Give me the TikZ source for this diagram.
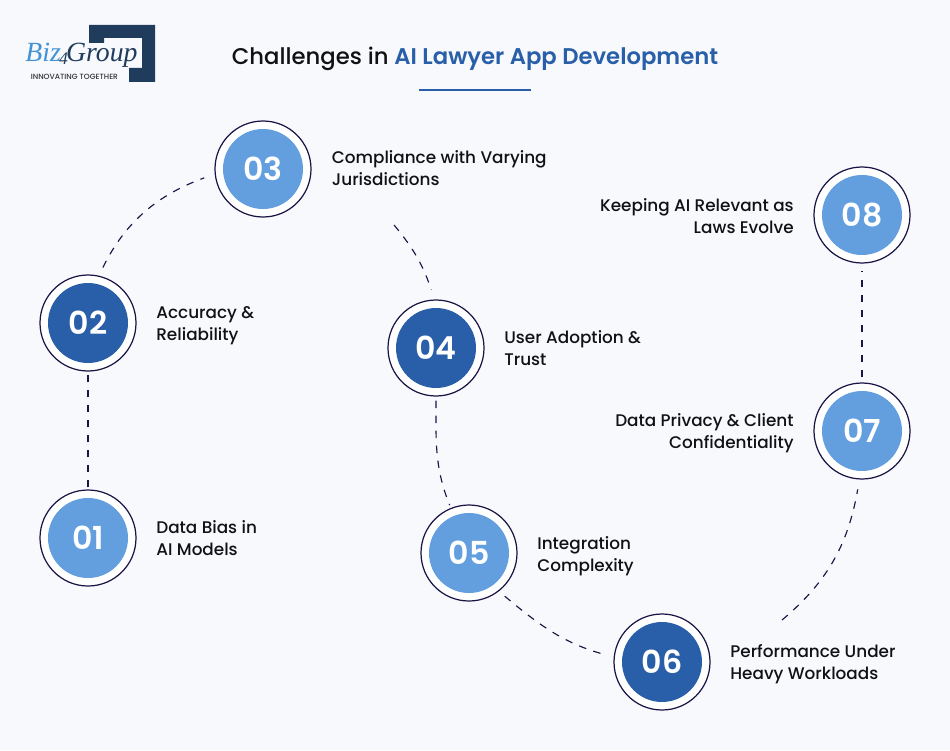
\documentclass[tikz,border=0pt]{standalone}
\usepackage{fontspec}
\setmainfont{Poppins}[UprightFont=* Medium, BoldFont=* SemiBold]
\newfontfamily\logofont{Liberation Serif}
\definecolor{paper}{RGB}{248, 249, 253}
\definecolor{inkdark}{RGB}{17, 17, 20}
\definecolor{ringnavy}{RGB}{28, 20, 69}
\definecolor{lightblue}{RGB}{99, 159, 223}
\definecolor{darkblue}{RGB}{41, 95, 168}
\definecolor{logonavy}{RGB}{32, 60, 92}
\definecolor{logoblue}{RGB}{66, 146, 214}
\tikzset{
    ringnode/.style   = {circle, draw=ringnavy, fill=white, line width=0.7pt, minimum size=1.92cm, inner sep=0pt},
    lightnum/.style   = {circle, fill=lightblue, text=white, minimum size=1.60cm, inner sep=0pt, font=\fontsize{18}{18}\selectfont\bfseries},
    darknum/.style    = {circle, fill=darkblue, text=white, minimum size=1.60cm, inner sep=0pt, font=\fontsize{18}{18}\selectfont\bfseries},
    sidetext/.style   = {text=inkdark, inner sep=0pt, font=\fontsize{9.58}{12.5}\selectfont},
    dashline/.style   = {ringnavy, line width=0.65pt, dash pattern=on 0.15cm off 0.15cm}
}
\begin{document}
\begin{tikzpicture}
    \useasboundingbox (0,0) rectangle (19,15);
    \fill[paper] (0,0) rectangle (19,15);

    % logo
    \fill[logonavy] (1.78,14.50) -- (3.10,14.50) -- (3.10,13.36) -- (2.58,13.36) -- (2.58,13.64) -- (2.84,13.64) -- (2.84,14.24) -- (2.08,14.24) -- (2.08,14.14) -- (1.78,14.14) -- cycle;
    \fill[paper] (1.40,13.70) rectangle (2.62,14.10);
    \node[inner sep=0pt, anchor=base west, font=\logofont\itshape\fontsize{15.8}{15.8}\selectfont] (logoname) at (0.50,13.77) {\textcolor{logoblue}{Biz}\hspace{-1pt}\textcolor{logonavy}{\raisebox{-1.5pt}{\fontsize{10}{10}\selectfont 4}\hspace{-1pt}Group}};
    \node[inner sep=0pt, anchor=west, text=inkdark!85, font=\fontsize{4.3}{4.3}\selectfont] (logotag) at (0.61,13.47) {INNOVATING TOGETHER};

    % title
    \node[inner sep=0pt, text=inkdark, font=\fontsize{12.93}{14}\selectfont] (title) at (9.50,13.82) {Challenges in \textcolor{darkblue}{\bfseries AI Lawyer App Development}};
    \coordinate (ruleleft) at (8.38,13.20);
    \coordinate (ruleright) at (10.62,13.20);
    \draw[darkblue, line width=1pt] (ruleleft) -- (ruleright);

    % steps
    \node[ringnode] (r01) at ( 1.76, 4.24) {};
    \node[ringnode] (r02) at ( 1.76, 8.54) {};
    \node[ringnode] (r03) at ( 5.26,11.62) {};
    \node[ringnode] (r04) at ( 8.72, 8.04) {};
    \node[ringnode] (r05) at ( 9.38, 3.94) {};
    \node[ringnode] (r06) at (13.24, 1.76) {};
    \node[ringnode] (r07) at (17.24, 6.38) {};
    \node[ringnode] (r08) at (17.24,10.70) {};
    \node[lightnum] (n01) at (r01) {01};
    \node[darknum]  (n02) at (r02) {02};
    \node[lightnum] (n03) at (r03) {03};
    \node[darknum]  (n04) at (r04) {04};
    \node[lightnum] (n05) at (r05) {05};
    \node[darknum]  (n06) at (r06) {06};
    \node[lightnum] (n07) at (r07) {07};
    \node[lightnum] (n08) at (r08) {08};

    % labels
    \node[sidetext, anchor=west, align=left]  (t01) at ( 3.12, 4.24) {Data Bias in\\AI Models};
    \node[sidetext, anchor=west, align=left]  (t02) at ( 3.12, 8.48) {Accuracy \&\\Reliability};
    \node[sidetext, anchor=west, align=left]  (t03) at ( 6.63,11.64) {Compliance with Varying\\Jurisdictions};
    \node[sidetext, anchor=west, align=left]  (t04) at (10.08, 8.04) {User Adoption \&\\Trust};
    \node[sidetext, anchor=west, align=left]  (t05) at (10.74, 3.88) {Integration\\Complexity};
    \node[sidetext, anchor=west, align=left]  (t06) at (14.60, 1.72) {Performance Under\\Heavy Workloads};
    \node[sidetext, anchor=east, align=right] (t07) at (15.88, 6.34) {Data Privacy \& Client\\Confidentiality};
    \node[sidetext, anchor=east, align=right] (t08) at (15.88,10.68) {Keeping AI Relevant as\\Laws Evolve};

    % connectors
    \coordinate (c34) at (7.88,10.50);
    \coordinate (c67) at (15.64,2.60);
    \draw[dashline, shorten >=0.04cm, shorten <=0.04cm] (r01) -- (r02);
    \draw[dashline, shorten >=0.22cm, shorten <=0.18cm] (r02.77) to[out=64, in=200] (r03.186);
    \draw[dashline, shorten >=0.20cm] (c34) to[out=-50, in=108] (r04.92);
    \draw[dashline, shorten >=0.06cm, shorten <=0.08cm] (r04) to[out=-90, in=112] (r05);
    \draw[dashline, shorten >=0.18cm, shorten <=0.15cm] (r05.-52) to[out=-40, in=165] (r06.174);
    \draw[dashline, shorten >=0.20cm] (c67) to[out=40, in=-100] (r07.-93);
    \draw[dashline, shorten >=0.14cm, shorten <=0.10cm] (r07) -- (r08);
\end{tikzpicture}
\end{document}
